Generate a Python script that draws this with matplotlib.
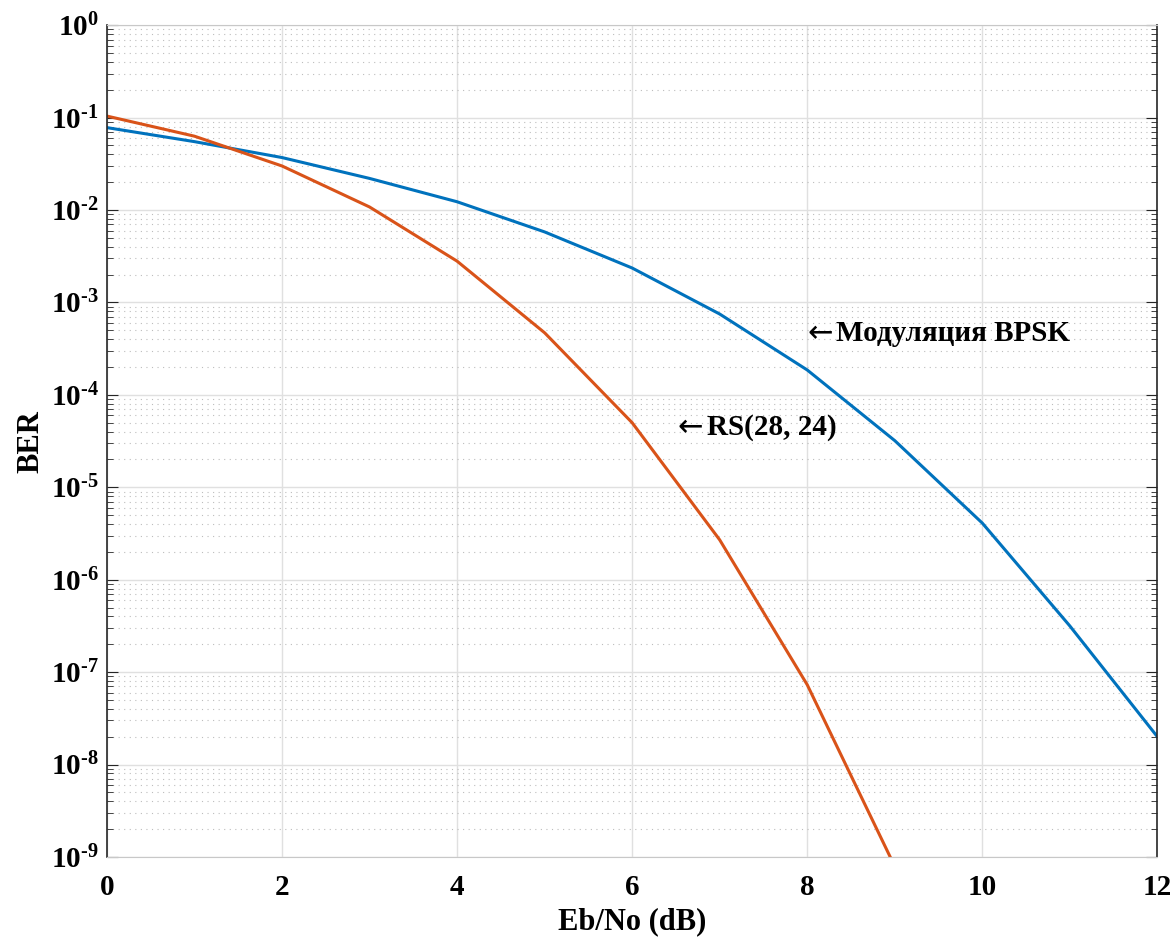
import numpy as np
import matplotlib
matplotlib.use('Agg')
import matplotlib.pyplot as plt
from matplotlib.ticker import LogLocator, FuncFormatter, NullFormatter

# Data
ebno = [0, 1, 2, 3, 4, 5, 6, 7, 8, 9, 10, 11, 12]
ber_bpsk = [7.8e-2, 5.5e-2, 3.7e-2, 2.2e-2, 1.23e-2, 5.8e-3, 2.36e-3, 7.5e-4,
            1.86e-4, 3.2e-5, 4.1e-6, 3.16e-7, 2.0e-8]
ebno_rs = [0, 1, 2, 3, 4, 5, 6, 7, 8, 9]
ber_rs = [1.04e-1, 6.3e-2, 3.0e-2, 1.08e-2, 2.8e-3, 4.7e-4, 5.0e-5, 2.7e-6,
          7.3e-8, 7.9e-10]

plt.rcParams['font.family'] = ['Liberation Serif', 'DejaVu Serif']
plt.rcParams['font.weight'] = 'bold'
plt.rcParams['mathtext.fontset'] = 'custom'
plt.rcParams['mathtext.rm'] = 'Liberation Serif:bold'
plt.rcParams['mathtext.bf'] = 'Liberation Serif:bold'

HYPHEN = '\u2010'


def exp_label(v, pos):
    e = int(round(np.log10(v)))
    if e < 0:
        return '$\\mathregular{10^{' + HYPHEN + str(-e) + '}}$'
    return '$\\mathregular{10^{' + str(e) + '}}$'


fig = plt.figure(figsize=(11.75, 9.38), dpi=100)
ax = fig.add_axes([0.091, 0.0864, 0.894, 0.8867])

ax.semilogy(ebno, ber_bpsk, color='#0072BD', lw=2.2)
ax.semilogy(ebno_rs, ber_rs, color='#D95319', lw=2.2)

ax.set_xlim(0, 12)
ax.set_ylim(1e-9, 1)
ax.set_xticks(range(0, 13, 2))
ax.yaxis.set_major_locator(LogLocator(base=10, numticks=20))
ax.yaxis.set_minor_locator(LogLocator(base=10, subs=np.arange(2, 10), numticks=20))
ax.yaxis.set_minor_formatter(NullFormatter())
ax.yaxis.set_major_formatter(FuncFormatter(exp_label))

ax.grid(True, which='major', color='#e0e0e0', lw=1.0)
ax.grid(True, which='minor', axis='y', color='#bdbdbd', lw=0.8, linestyle=(0, (1, 4)))
ax.set_axisbelow(True)

for s in ['top', 'bottom']:
    ax.spines[s].set_color('#c8c8c8')
for s in ['left', 'right']:
    ax.spines[s].set_color('#262626')
    ax.spines[s].set_linewidth(1.2)

ax.tick_params(axis='y', which='both', direction='in', left=True, right=True, labelsize=21,
               color='#262626', pad=6)
ax.tick_params(axis='y', which='major', length=8)
ax.tick_params(axis='y', which='minor', length=4)
ax.tick_params(axis='x', which='both', length=0, labelsize=21, pad=12)

for lab in ax.get_xticklabels() + ax.get_yticklabels():
    lab.set_fontweight('bold')

ax.set_xlabel('Eb/No (dB)', fontsize=22, fontweight='bold', labelpad=5)
ax.set_ylabel('BER', fontsize=22, fontweight='bold', labelpad=4)

# annotations: arrow glyph + label
for x0, y0, txt in [(8.0, 4.6e-4, 'Модуляция BPSK'), (6.52, 4.4e-5, 'RS(28, 24)')]:
    ax.text(x0, y0, '\u2190', fontsize=22, fontweight='normal', family='DejaVu Sans',
            ha='left', va='center')
    ax.annotate(txt, xy=(x0, y0), xytext=(21, 0), textcoords='offset points',
                fontsize=21, fontweight='bold', ha='left', va='center')

fig.savefig('out.png', dpi=100)
